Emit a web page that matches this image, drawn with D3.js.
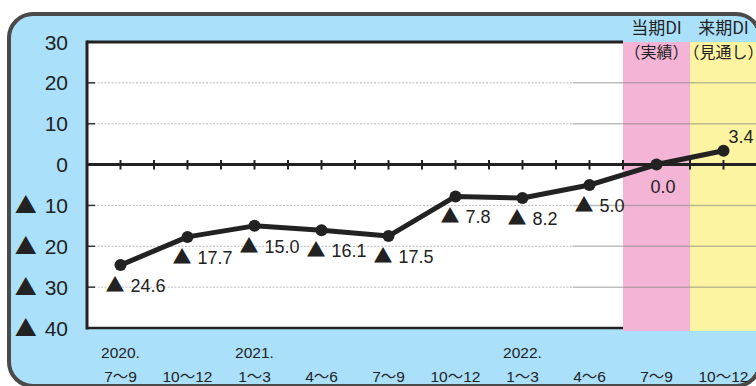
<!DOCTYPE html>
<html><head><meta charset="utf-8">
<script src="https://cdn.jsdelivr.net/npm/d3@7"></script>
<style>body{margin:0;background:#fff}svg{display:block}</style>
</head><body>
<svg id="c" width="756" height="386"></svg>
<script>
const years   = ["2020.", "", "2021.", "", "", "", "2022.", "", "", ""];
const periods = ["7～9", "10～12", "1～3", "4～6", "7～9", "10～12", "1～3", "4～6", "7～9", "10～12"];
const diValues = [-24.6, -17.7, -15.0, -16.1, -17.5, -7.8, -8.2, -5.0, 0.0, 3.4];
const yTickValues = [30, 20, 10, 0, -10, -20, -30, -40];
const headerMain = ["当期DI", "来期DI"];
const headerSub = ["（実績）", "（見通し）"];

const svg = d3.select("#c");
const dark = "#222";
const numFont = "'Liberation Sans', 'Noto Sans CJK JP', sans-serif";
const cjkFont = "'Noto Sans CJK JP', sans-serif";

const idx = d3.range(diValues.length);
const x = d3.scaleBand().domain(idx).range([87, 757]).paddingInner(0).paddingOuter(0);
const y = d3.scaleLinear().domain([-40, 30]).range([328, 42]);
const cx = i => x(i) + x.bandwidth() / 2;

// frame
svg.append("rect").attr("x", 9).attr("y", 14).attr("width", 751).attr("height", 372)
  .attr("rx", 24).attr("ry", 24).attr("fill", "#aae0fa").attr("stroke", "#4a4a4a").attr("stroke-width", 4);

// plot white area (actual periods)
const actualEnd = x(8);
svg.append("rect").attr("x", 87).attr("y", y(30)).attr("width", actualEnd - 87).attr("height", y(-40) - y(30)).attr("fill", "#fff");
// zones
svg.append("rect").attr("x", x(8)).attr("y", y(30)).attr("width", x.bandwidth()).attr("height", y(-40) - y(30) + 3).attr("fill", "#f4b4d5");
svg.append("rect").attr("x", x(9)).attr("y", y(30)).attr("width", x.bandwidth()).attr("height", y(-40) - y(30) + 3).attr("fill", "#fdf4a1");

// grid lines
const split = x(7) + x.bandwidth() * 0.25;
yTickValues.filter(v => v !== 30 && v !== 0 && v !== -40).forEach(v => {
  svg.append("line").attr("x1", 87).attr("x2", split).attr("y1", y(v)).attr("y2", y(v))
    .attr("stroke", "#bbb").attr("stroke-width", 1).attr("stroke-dasharray", "2,1.5");
  svg.append("line").attr("x1", split).attr("x2", 757).attr("y1", y(v)).attr("y2", y(v))
    .attr("stroke", "#888").attr("stroke-opacity", 0.55).attr("stroke-width", 1.5);
});

// left ticks
yTickValues.forEach(v => {
  svg.append("line").attr("x1", 87).attr("x2", 95).attr("y1", y(v)).attr("y2", y(v))
    .attr("stroke", "#333").attr("stroke-width", 1.5);
});

// plot border
svg.append("line").attr("x1", 87).attr("x2", 87).attr("y1", y(30) - 1.5).attr("y2", y(-40) + 1.5).attr("stroke", dark).attr("stroke-width", 3);
svg.append("line").attr("x1", 87).attr("x2", actualEnd).attr("y1", y(30)).attr("y2", y(30)).attr("stroke", dark).attr("stroke-width", 3);
svg.append("line").attr("x1", 87).attr("x2", actualEnd).attr("y1", y(-40)).attr("y2", y(-40)).attr("stroke", dark).attr("stroke-width", 2.5);

// zero line and ticks
svg.append("line").attr("x1", 87).attr("x2", 757).attr("y1", y(0)).attr("y2", y(0)).attr("stroke", dark).attr("stroke-width", 3);
const tickXs = [];
idx.forEach(i => { tickXs.push(cx(i)); if (i > 0) tickXs.push(x(i)); });
tickXs.forEach(t => {
  svg.append("line").attr("x1", t).attr("x2", t).attr("y1", y(0) - 4.5).attr("y2", y(0) + 5)
    .attr("stroke", dark).attr("stroke-width", 2);
});

// data line
const line = d3.line().x((d, i) => cx(i)).y(d => y(d));
svg.append("path").datum(diValues).attr("d", line).attr("fill", "none")
  .attr("stroke", dark).attr("stroke-width", 5).attr("stroke-linejoin", "round");
svg.selectAll("circle.pt").data(diValues).enter().append("circle").attr("class", "pt")
  .attr("cx", (d, i) => cx(i)).attr("cy", d => y(d)).attr("r", 6).attr("fill", dark);

// data labels
diValues.forEach((v, i) => {
  const t = svg.append("text").attr("font-family", numFont).attr("font-size", 18).attr("fill", dark);
  if (v < 0) {
    t.attr("x", cx(i) - 15).attr("y", y(v) + 27);
    t.append("tspan").attr("font-family", cjkFont).attr("font-size", 19).text("▲");
    t.append("tspan").attr("dx", 6).text(d3.format(".1f")(-v));
  } else if (v === 0) {
    t.attr("x", cx(i) - 6).attr("y", y(v) + 28).text(d3.format(".1f")(v));
  } else {
    t.attr("x", cx(i) + 5).attr("y", y(v) - 8).text(d3.format(".1f")(v));
  }
});

// y-axis labels
yTickValues.forEach(v => {
  const t = svg.append("text").attr("x", 68).attr("y", y(v)).attr("dy", "0.36em")
    .attr("text-anchor", "end").attr("font-family", numFont).attr("font-size", 21).attr("fill", dark);
  if (v < 0) {
    t.append("tspan").attr("font-family", cjkFont).attr("font-size", 22).text("▲");
    t.append("tspan").attr("dx", 8).text(-v);
  } else {
    t.text(v);
  }
});

// x-axis labels
idx.forEach(i => {
  if (years[i]) svg.append("text").attr("x", cx(i)).attr("y", 358).attr("text-anchor", "middle")
    .attr("font-family", numFont).attr("font-size", 15.5).attr("fill", dark).text(years[i]);
  svg.append("text").attr("x", cx(i)).attr("y", 382).attr("text-anchor", "middle")
    .attr("font-family", numFont).attr("font-size", 15.5).attr("fill", dark).text(periods[i]);
});

// header
[8, 9].forEach((i, k) => {
  svg.append("text").attr("x", cx(i)).attr("y", 34).attr("text-anchor", "middle")
    .attr("font-family", cjkFont).attr("font-size", 17).attr("fill", dark).text(headerMain[k]);
  svg.append("text").attr("x", cx(i)).attr("y", 58).attr("text-anchor", "middle")
    .attr("font-family", cjkFont).attr("font-size", 16).attr("fill", dark).text(headerSub[k]);
});
</script>
</body></html>
